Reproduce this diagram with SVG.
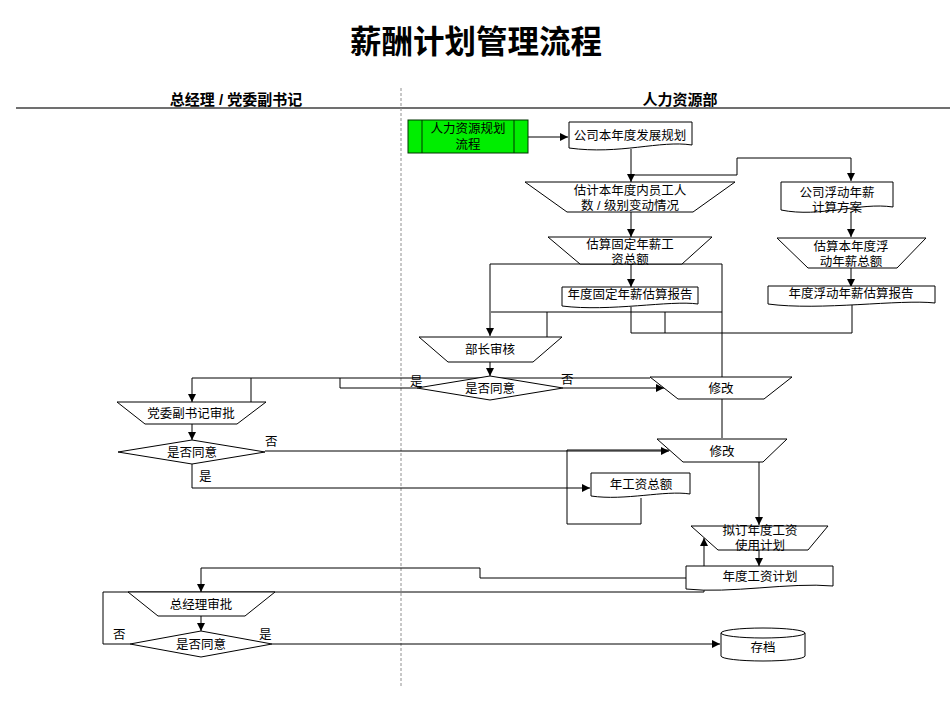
<svg xmlns="http://www.w3.org/2000/svg" width="950" height="713" viewBox="0 0 950 713">
<style>
text{font-family:"Liberation Sans","Noto Sans CJK SC",sans-serif;font-size:12.5px;fill:#000;text-anchor:middle}
.s{fill:#fff;stroke:#000;stroke-width:1}
.c{fill:none;stroke:#000;stroke-width:1}
.a{marker-end:url(#ar)}
.lb{text-anchor:start}
.h{font-weight:bold;font-size:15px}
</style>
<defs>
<marker id="ar" viewBox="0 0 10 10" refX="10" refY="5" markerWidth="8" markerHeight="8" markerUnits="userSpaceOnUse" orient="auto"><path d="M0,0 L10,5 L0,10 Z" fill="#000"/></marker>
</defs>
<rect width="950" height="713" fill="#fff"/>
<text x="476" y="53" style="font-size:31.5px;font-weight:bold;font-family:'Noto Sans CJK SC',sans-serif">薪酬计划管理流程</text>
<g id="lanes">
<line x1="16" y1="108" x2="950" y2="108" stroke="#707070" stroke-width="2"/>
<line x1="401" y1="88" x2="401" y2="686" stroke="#909090" stroke-width="1" stroke-dasharray="3,2"/>
<text class="h" x="236" y="105">总经理 / 党委副书记</text>
<text class="h" x="680" y="105">人力资源部</text>
</g>
<g id="connectors">
<path class="c a" d="M528,137 H568"/>
<path class="c a" d="M631,149 V182"/>
<path class="c a" d="M631,175 H737 V158 H851 V181"/>
<path class="c a" d="M631,212 V237"/>
<path class="c a" d="M631,264 V287"/>
<path class="c" d="M490,264 H722 V438"/>
<path class="c a" d="M490,264 V336"/>
<path class="c" d="M852,305 V333 H631 V307"/>
<path class="c" d="M665,333 V312 H491"/>
<path class="c" d="M665,312 H722"/>
<path class="c a" d="M547,312 V346"/>
<path class="c a" d="M851,212 V237"/>
<path class="c a" d="M851,268 V287"/>
<path class="c a" d="M490,362 V376"/>
<path class="c a" d="M417,388 H340 V378 H192 V402"/>
<path class="c a" d="M251,378 V412"/>
<path class="c" d="M340,378 H650"/>
<path class="c a" d="M563,388 H664"/>
<path class="c a" d="M192,424 V440"/>
<path class="c a" d="M265,451 H669"/>
<path class="c a" d="M641,498 V524 H567 V450 H759 V525"/>
<path class="c a" d="M192,464 V488 H590"/>
<path class="c a" d="M759,550 V566"/>
<path class="c a" d="M686,578 H480 V568 H201 V592"/>
<path class="c a" d="M130,644 H103 V592 H704 V538"/>
<path class="c a" d="M201,616 V631"/>
<path class="c a" d="M272,644 H720"/>
</g>
<g id="n-hrplan">
<rect x="408" y="120" width="120" height="33" fill="#00ee00" stroke="#003300" stroke-width="1"/>
<line x1="422" y1="120" x2="422" y2="153" stroke="#003300"/>
<line x1="514" y1="120" x2="514" y2="153" stroke="#003300"/>
<text x="468" y="133">人力资源规划</text>
<text x="468" y="149">流程</text>
</g>
<g id="n-devplan">
<path class="s" d="M569,122 H692 V145 C660,140 620,155 569,148 Z"/>
<text x="630" y="140">公司本年度发展规划</text>
</g>
<g id="n-estimate">
<path class="s" d="M525,182 H735 L693,212 H567 Z"/>
<text x="630" y="195">估计本年度内员工人</text>
<text x="630" y="210">数 / 级别变动情况</text>
</g>
<g id="n-float">
<path class="s" d="M781,182 H893 V207 C860,202 820,218 781,210 Z"/>
<text x="837" y="197">公司浮动年薪</text>
<text x="837" y="212">计算方案</text>
</g>
<g id="n-fixedcalc">
<path class="s" d="M548,237 H712 L682,264 H580 Z"/>
<text x="630" y="249">估算固定年薪工</text>
<text x="630" y="264">资总额</text>
</g>
<g id="n-floatcalc">
<path class="s" d="M777,238 H926 L897,268 H808 Z"/>
<text x="851" y="251">估算本年度浮</text>
<text x="851" y="266">动年薪总额</text>
</g>
<g id="n-fixedreport">
<path class="s" d="M562,287 H698 V304 C670,300 610,312 562,306 Z"/>
<text x="630" y="299">年度固定年薪估算报告</text>
</g>
<g id="n-floatreport">
<path class="s" d="M768,286 H935 V303 C900,299 820,311 768,304 Z"/>
<text x="851" y="298">年度浮动年薪估算报告</text>
</g>
<g id="n-deptreview">
<path class="s" d="M419,337 H562 L533,362 H448 Z"/>
<text x="490" y="354">部长审核</text>
</g>
<g id="n-agree1">
<path class="s" d="M490,376 L563,388 L490,400 L417,388 Z"/>
<text x="490" y="393">是否同意</text>
</g>
<g id="n-modify1">
<path class="s" d="M650,377 H792 L764,399 H678 Z"/>
<text x="721" y="393">修改</text>
</g>
<g id="n-partyreview">
<path class="s" d="M117,402 H266 L237,424 H145 Z"/>
<text x="191" y="418">党委副书记审批</text>
</g>
<g id="n-agree2">
<path class="s" d="M192,440 L265,452 L192,464 L118,452 Z"/>
<text x="192" y="457">是否同意</text>
</g>
<g id="n-modify2">
<path class="s" d="M657,439 H787 L763,462 H683 Z"/>
<text x="722" y="456">修改</text>
</g>
<g id="n-annual">
<path class="s" d="M591,473 H690 V494 C665,490 625,501 591,496 Z"/>
<text x="641" y="489">年工资总额</text>
</g>
<g id="n-draft">
<path class="s" d="M691,526 H828 L808,550 H718 Z"/>
<text x="760" y="535">拟订年度工资</text>
<text x="760" y="550">使用计划</text>
</g>
<g id="n-plan">
<path class="s" d="M686,566 H833 V586 C790,582 730,594 686,589 Z"/>
<text x="760" y="581">年度工资计划</text>
</g>
<g id="n-gmreview">
<path class="s" d="M128,592 H275 L245,616 H158 Z"/>
<text x="201" y="609">总经理审批</text>
</g>
<g id="n-agree3">
<path class="s" d="M201,631 L272,644 L201,657 L130,644 Z"/>
<text x="201" y="649">是否同意</text>
</g>
<g id="n-archive">
<path class="s" d="M721,633 V656 A42,5 0 0 0 805,656 V633"/>
<ellipse class="s" cx="763" cy="633" rx="42" ry="5"/>
<text x="763" y="652">存档</text>
</g>
<g id="labels">
<text class="lb" x="410" y="386">是</text>
<text class="lb" x="561" y="384">否</text>
<text class="lb" x="265" y="446">否</text>
<text class="lb" x="199" y="481">是</text>
<text class="lb" x="113" y="639">否</text>
<text class="lb" x="259" y="639">是</text>
</g>
</svg>
